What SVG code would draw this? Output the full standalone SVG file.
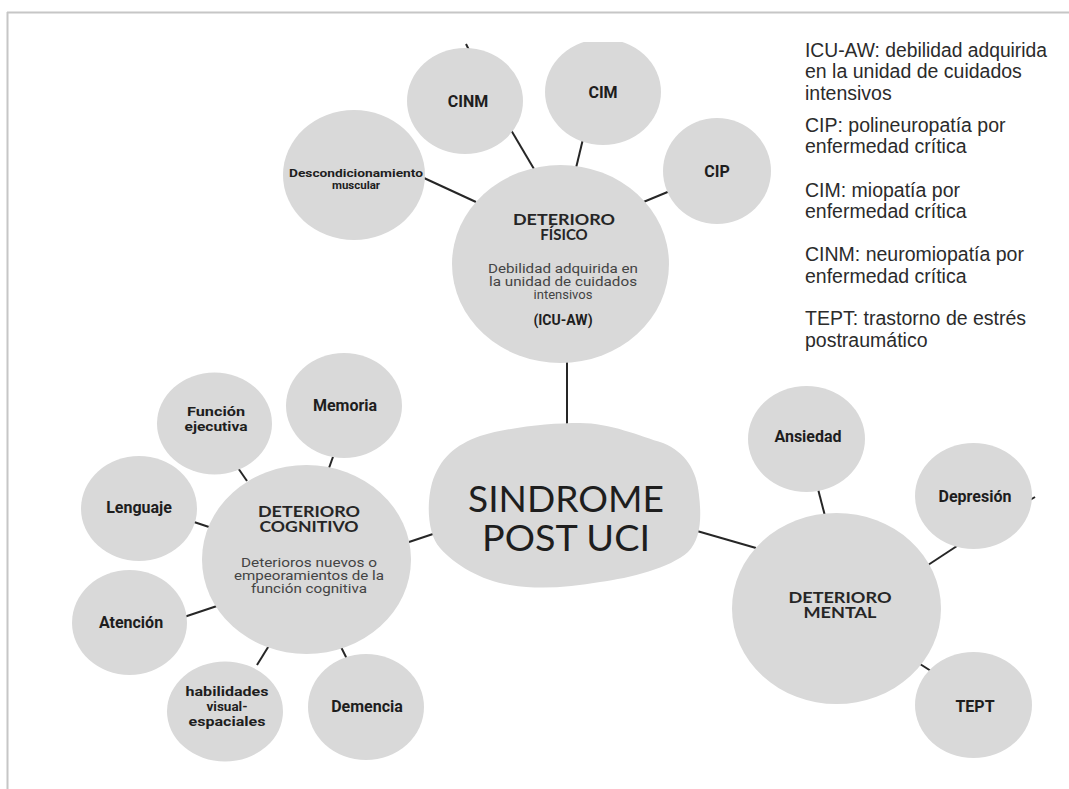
<svg xmlns="http://www.w3.org/2000/svg" width="1069" height="789" viewBox="0 0 1069 789">
<defs>
<clipPath id="clip"><rect x="0" y="42" width="1037" height="747"/></clipPath>
<style>
.n{fill:#d9d9d9;}
.c line{stroke:#262626;stroke-width:2;stroke-linecap:butt;}
.lb{font-family:Roboto,"Liberation Sans",sans-serif;font-weight:700;font-size:16px;fill:#1e1e1e;text-anchor:middle;}
.l2{font-size:13.5px;}
.hd{font-family:Lato,"Open Sans",sans-serif;font-weight:700;font-size:15px;fill:#262626;text-anchor:middle;}
.sb{font-family:Roboto,"Liberation Sans",sans-serif;font-weight:400;font-size:13px;fill:#444;text-anchor:middle;}
.big{font-family:Lato,"Open Sans",sans-serif;font-weight:400;font-size:36px;fill:#1e1e1e;text-anchor:middle;}
.lg{font-family:"Liberation Sans",Arial,sans-serif;font-size:19.5px;fill:#2b2b2b;}
</style>
</defs>
<rect x="0" y="0" width="1069" height="789" fill="#ffffff"/>
<g id="border" stroke="#c6c6c6" stroke-width="2" fill="none">
<line x1="7" y1="12.5" x2="1069" y2="12.5"/>
<line x1="7.5" y1="12" x2="7.5" y2="789"/>
</g>
<g clip-path="url(#clip)">
<g id="connectors" class="c">
<line x1="567" y1="360" x2="567" y2="426"/>
<line x1="697" y1="531" x2="756" y2="548"/>
<line x1="406" y1="543" x2="436" y2="533"/>
<line x1="424" y1="178" x2="476" y2="202"/>
<line x1="511" y1="130" x2="534" y2="169"/>
<line x1="583" y1="139" x2="576" y2="168"/>
<line x1="670" y1="191" x2="641" y2="203"/>
<line x1="466" y1="44" x2="469" y2="50"/>
<line x1="818" y1="489" x2="825" y2="516"/>
<line x1="960" y1="544" x2="925" y2="567"/>
<line x1="1030" y1="500" x2="1035" y2="497"/>
<line x1="920" y1="664" x2="931" y2="671"/>
<line x1="238" y1="468" x2="247" y2="481"/>
<line x1="334" y1="454" x2="329" y2="468"/>
<line x1="194" y1="522" x2="209" y2="527"/>
<line x1="184" y1="617" x2="220" y2="605"/>
<line x1="257" y1="665" x2="270" y2="644"/>
<line x1="341" y1="647" x2="347" y2="659"/>
</g>
<g id="sindrome">
<path class="n" d="M580,423 C610,423 640,436 663,443 C685,452 697,470 699,495 C702,520 700,540 688,552 C670,568 630,578 600,582 C570,587 540,590 510,585 C480,580 455,565 440,548 C428,535 426,505 432,483 C440,458 455,445 480,436 C510,427 550,423 580,423 Z"/>
<text class="big" x="566" y="512" textLength="196" lengthAdjust="spacingAndGlyphs">SINDROME</text>
<text class="big" x="566" y="551" textLength="168" lengthAdjust="spacingAndGlyphs">POST UCI</text>
</g>
<g id="fisico">
<ellipse class="n" cx="560.5" cy="264" rx="108.5" ry="99"/>
<text class="hd" x="564" y="225" textLength="102" lengthAdjust="spacingAndGlyphs">DETERIORO</text>
<text class="hd" x="564" y="240">FÍSICO</text>
<text class="sb" x="563" y="273" textLength="150" lengthAdjust="spacingAndGlyphs">Debilidad adquirida en</text>
<text class="sb" x="563" y="286" textLength="148" lengthAdjust="spacingAndGlyphs">la unidad de cuidados</text>
<text class="sb" x="563" y="299">intensivos</text>
<text class="lb" x="563" y="325" style="font-size:14px">(ICU-AW)</text>
</g>
<g id="descondicionamiento">
<ellipse class="n" cx="354" cy="175" rx="71" ry="65"/>
<text class="lb" x="356" y="177" style="font-size:11.5px" textLength="134" lengthAdjust="spacingAndGlyphs">Descondicionamiento</text>
<text class="lb" x="356" y="189" style="font-size:11.5px">muscular</text>
</g>
<g id="cinm">
<ellipse class="n" cx="465" cy="101" rx="58" ry="53"/>
<text class="lb" x="468" y="107">CINM</text>
</g>
<g id="cim">
<ellipse class="n" cx="603" cy="92" rx="58" ry="53"/>
<text class="lb" x="603" y="98">CIM</text>
</g>
<g id="cip">
<ellipse class="n" cx="717" cy="171" rx="54" ry="53"/>
<text class="lb" x="717" y="177">CIP</text>
</g>
<g id="cognitivo">
<ellipse class="n" cx="306.5" cy="559.5" rx="104.5" ry="94.5"/>
<text class="hd" x="309" y="517" textLength="102" lengthAdjust="spacingAndGlyphs">DETERIORO</text>
<text class="hd" x="309" y="532" textLength="99" lengthAdjust="spacingAndGlyphs">COGNITIVO</text>
<text class="sb" x="309" y="567" textLength="136" lengthAdjust="spacingAndGlyphs">Deterioros nuevos o</text>
<text class="sb" x="309" y="580" textLength="150" lengthAdjust="spacingAndGlyphs">empeoramientos de la</text>
<text class="sb" x="309" y="593" textLength="116" lengthAdjust="spacingAndGlyphs">función cognitiva</text>
</g>
<g id="funcion">
<ellipse class="n" cx="214.5" cy="423.5" rx="57.5" ry="51"/>
<text class="lb l2" x="216" y="416" textLength="58" lengthAdjust="spacingAndGlyphs">Función</text>
<text class="lb l2" x="216" y="431" textLength="63" lengthAdjust="spacingAndGlyphs">ejecutiva</text>
</g>
<g id="memoria">
<ellipse class="n" cx="344" cy="405.5" rx="58" ry="52.5"/>
<text class="lb" x="345" y="411">Memoria</text>
</g>
<g id="lenguaje">
<ellipse class="n" cx="139" cy="508.5" rx="58" ry="52.5"/>
<text class="lb" x="139" y="513">Lenguaje</text>
</g>
<g id="atencion">
<ellipse class="n" cx="129.5" cy="622.5" rx="57.5" ry="52.5"/>
<text class="lb" x="131" y="628">Atención</text>
</g>
<g id="habilidades">
<ellipse class="n" cx="225" cy="711.5" rx="58" ry="50"/>
<text class="lb l2" x="227" y="696" textLength="83" lengthAdjust="spacingAndGlyphs">habilidades</text>
<text class="lb l2" x="227" y="711">visual-</text>
<text class="lb l2" x="227" y="726" textLength="77" lengthAdjust="spacingAndGlyphs">espaciales</text>
</g>
<g id="demencia">
<ellipse class="n" cx="366" cy="707" rx="58" ry="53"/>
<text class="lb" x="367" y="712">Demencia</text>
</g>
<g id="mental">
<ellipse class="n" cx="836.5" cy="608.5" rx="104.5" ry="95.5"/>
<text class="hd" x="840" y="603" textLength="103" lengthAdjust="spacingAndGlyphs">DETERIORO</text>
<text class="hd" x="840" y="618" textLength="73" lengthAdjust="spacingAndGlyphs">MENTAL</text>
</g>
<g id="ansiedad">
<ellipse class="n" cx="806.5" cy="439" rx="58.5" ry="53"/>
<text class="lb" x="808" y="442">Ansiedad</text>
</g>
<g id="depresion">
<ellipse class="n" cx="973.5" cy="496" rx="58.5" ry="53"/>
<text class="lb" x="975" y="502">Depresión</text>
</g>
<g id="tept">
<ellipse class="n" cx="973.5" cy="705" rx="58.5" ry="53"/>
<text class="lb" x="975" y="712">TEPT</text>
</g>
</g>
<g id="legend" class="lg">
<text x="805" y="57" textLength="242" lengthAdjust="spacingAndGlyphs">ICU-AW: debilidad adquirida</text>
<text x="805" y="78">en la unidad de cuidados</text>
<text x="805" y="100">intensivos</text>
<text x="805" y="132">CIP: polineuropatía por</text>
<text x="805" y="153">enfermedad crítica</text>
<text x="805" y="197">CIM: miopatía por</text>
<text x="805" y="218">enfermedad crítica</text>
<text x="805" y="261">CINM: neuromiopatía por</text>
<text x="805" y="283">enfermedad crítica</text>
<text x="805" y="325">TEPT: trastorno de estrés</text>
<text x="805" y="347">postraumático</text>
</g>
</svg>
